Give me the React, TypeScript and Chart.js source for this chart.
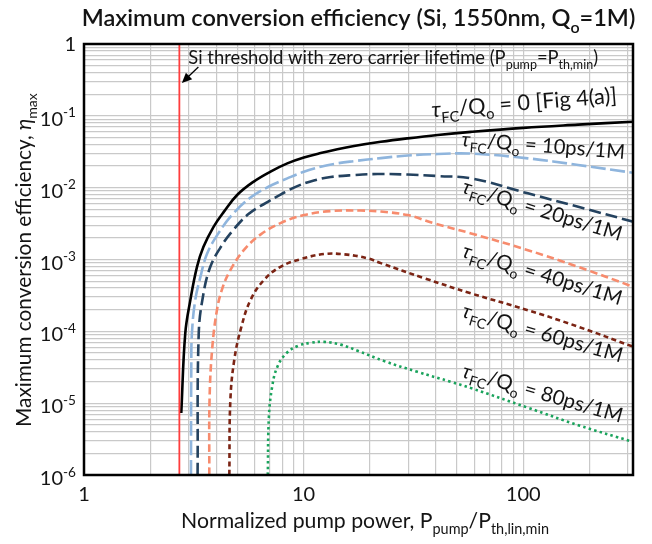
import React, { useEffect, useRef } from 'react';
import { Chart, registerables } from 'chart.js';
Chart.register(...registerables);

// ---------- axis ranges & ticks ----------
const X_MIN = 1;
const X_MAX = 316.23;
const Y_MIN = 1e-6;
const Y_MAX = 1;
const xGridValues = [1, 2, 3, 4, 5, 6, 7, 8, 9, 10, 20, 30, 40, 50, 60, 70, 80, 90, 100, 200, 300];
const yGridDecades = [-6, -5, -4, -3, -2, -1];
const yGridMultipliers = [1, 2, 3, 4, 5, 6, 7, 8, 9];
const xTickValues = [1, 10, 100];
const xTickLabels = ['1', '10', '100'];
const yTickExponents = [-6, -5, -4, -3, -2, -1, 0];

// ---------- data ----------
const thresholdX = 2.718;

const x0 = [2.773, 2.891, 3.05, 3.27, 3.5, 3.89, 4.33, 4.98, 5.93, 7.07, 8.43, 10.03, 11.96, 14.25, 16.97, 22.47, 29.8, 40.8, 57.9, 100, 177.8, 316.6];
const y0 = [7.3e-6, 9.3e-5, 2.72e-4, 7.9e-4, 1.5e-3, 2.85e-3, 4.6e-3, 7.9e-3, 0.01216, 0.01676, 0.0218, 0.02626, 0.03033, 0.03426, 0.03797, 0.04345, 0.04861, 0.05421, 0.05986, 0.06806, 0.0754, 0.0828];

const x10 = [3.07, 3.08, 3.1, 3.21, 3.39, 3.63, 4.09, 4.79, 5.73, 6.92, 8.43, 10.03, 11.96, 14.25, 16.97, 22.47, 29.8, 40.8, 57.9, 105, 178, 317];
const y10 = [1e-6, 3.2e-5, 9.3e-5, 2.72e-4, 5.74e-4, 1.19e-3, 2.31e-3, 4.39e-3, 7.28e-3, 0.0103, 0.01346, 0.01667, 0.01954, 0.0218, 0.0234, 0.0258, 0.028, 0.0294, 0.0298, 0.0256, 0.0207, 0.0161];

const x20 = [3.29, 3.33, 3.5, 3.76, 4.18, 4.74, 5.61, 6.71, 7.85, 9.36, 11.14, 13.28, 16.97, 21.7, 29.8, 40.8, 57.9, 105, 178, 317];
const y20 = [1e-6, 9.3e-5, 3.37e-4, 7.91e-4, 1.465e-3, 2.49e-3, 4.29e-3, 6.1e-3, 8.0e-3, 0.01052, 0.01256, 0.01406, 0.01498, 0.01547, 0.01522, 0.01451, 0.01348, 8.33e-3, 5.42e-3, 3.35e-3];

const x40 = [3.72, 3.73, 3.83, 4.03, 4.27, 4.64, 5.34, 6.36, 7.85, 10.03, 13.28, 18.2, 22.47, 29.8, 39.4, 57.9, 105, 178, 317];
const y40 = [1e-6, 1.1e-5, 5.47e-5, 1.97e-4, 4.0e-4, 7.11e-4, 1.35e-3, 2.22e-3, 3.21e-3, 4.15e-3, 4.72e-3, 4.8e-3, 4.65e-3, 4.15e-3, 3.18e-3, 2.31e-3, 1.35e-3, 7.9e-4, 4.17e-4];

const x60 = [4.59, 4.64, 4.84, 5.21, 5.73, 6.59, 7.85, 9.69, 12.38, 15.28, 19.54, 22.47, 35.4, 57.9, 105, 178, 317];
const y60 = [1e-6, 1.1e-5, 4.1e-5, 1.16e-4, 2.72e-4, 5.16e-4, 7.91e-4, 1.01e-3, 1.19e-3, 1.18e-3, 1.04e-3, 8.9e-4, 5.5e-4, 3.37e-4, 1.97e-4, 1.16e-4, 6.1e-5];

const x80 = [6.87, 6.95, 7.19, 7.59, 8.36, 9.49, 10.76, 12.38, 14.75, 17.6, 23.3, 33.0, 46.9, 57.9, 105, 178, 317];
const y80 = [1e-6, 6.45e-6, 1.69e-5, 3.2e-5, 4.97e-5, 6.32e-5, 6.92e-5, 7.14e-5, 6.53e-5, 5.38e-5, 3.85e-5, 2.73e-5, 1.98e-5, 1.62e-5, 8.65e-6, 4.94e-6, 2.89e-6];

const seriesNames = ['0', '10ps', '20ps', '40ps', '60ps', '80ps'];

// label anchors (data coords of left baseline), angle in degrees
const labelValues = ['0 [Fig 4(a)]', '10ps/1M', '20ps/1M', '40ps/1M', '60ps/1M', '80ps/1M'];
const labelX = [38.4, 52.1, 52.1, 52.1, 52.1, 52.1];
const labelY = [0.0953, 0.038, 8.55e-3, 1.09e-3, 1.59e-4, 2.32e-5];
const labelAngle = [-4.5, 4.5, 17, 17, 16, 16];
const labelWidth = [186, 164, 166, 166, 166, 166];

const FONT = 'Lato, "Open Sans", "DejaVu Sans", sans-serif';
const TEXT = '#141414';

type Kind = '' | 'sub' | 'sup' | 'i';
type Seg = [string, Kind];

function fontFor(kind: Kind, size: number, weight: string) {
  const s = kind === 'sub' || kind === 'sup' ? size * 0.68 : size;
  return `${kind === 'i' ? 'italic ' : ''}${weight} ${s.toFixed(2)}px ${FONT}`;
}

function measureRich(ctx: CanvasRenderingContext2D, segs: Seg[], size: number, weight: string) {
  let w = 0;
  for (const [t, k] of segs) {
    ctx.font = fontFor(k, size, weight);
    w += ctx.measureText(t).width;
  }
  return w;
}

function drawRich(
  ctx: CanvasRenderingContext2D,
  segs: Seg[],
  x: number,
  y: number,
  size: number,
  opts: { align?: 'left' | 'center' | 'right'; angle?: number; weight?: string; fit?: number; color?: string } = {}
) {
  const align = opts.align || 'left';
  const weight = opts.weight || 'normal';
  let w = measureRich(ctx, segs, size, weight);
  if (opts.fit) {
    size = (size * opts.fit) / w;
    w = measureRich(ctx, segs, size, weight);
  }
  ctx.save();
  ctx.translate(x, y);
  ctx.rotate(((opts.angle || 0) * Math.PI) / 180);
  ctx.fillStyle = opts.color || TEXT;
  ctx.textBaseline = 'alphabetic';
  ctx.textAlign = 'left';
  let cx = align === 'center' ? -w / 2 : align === 'right' ? -w : 0;
  for (const [t, k] of segs) {
    ctx.font = fontFor(k, size, weight);
    const dy = k === 'sub' ? size * 0.28 : k === 'sup' ? -size * 0.42 : 0;
    ctx.fillText(t, cx, dy);
    cx += ctx.measureText(t).width;
  }
  ctx.restore();
}

const decorPlugin = {
  id: 'decor',
  afterDraw(chart: any) {
    const ctx: CanvasRenderingContext2D = chart.ctx;
    const { left, right, top, bottom } = chart.chartArea;
    const xs = chart.scales.x;
    const ys = chart.scales.y;

    // frame
    ctx.save();
    ctx.strokeStyle = '#000';
    ctx.lineWidth = 2.5;
    ctx.strokeRect(left, top, right - left, bottom - top);
    ctx.restore();

    // title
    drawRich(
      ctx,
      [['Maximum conversion efficiency (Si, 1550nm, Q', ''], ['o', 'sub'], ['=1M)', '']],
      (left + right) / 2,
      26,
      23,
      { align: 'center', weight: '600', fit: 554 }
    );

    // x tick labels
    xTickValues.forEach((v, i) => {
      drawRich(ctx, [[xTickLabels[i], '']], xs.getPixelForValue(v), 501, 20, { align: 'center' });
    });

    // y tick labels
    yTickExponents.forEach((e) => {
      const py = ys.getPixelForValue(Math.pow(10, e));
      if (e === 0) {
        drawRich(ctx, [['1', '']], 76, py + 7, 20, { align: 'right' });
      } else {
        drawRich(ctx, [['10', ''], [String(e), 'sup']], 76, py + 10, 20, { align: 'right' });
      }
    });

    // axis titles
    drawRich(
      ctx,
      [['Normalized pump power, P', ''], ['pump', 'sub'], ['/P', ''], ['th,lin,min', 'sub']],
      365,
      528,
      18,
      { align: 'center', fit: 368 }
    );
    drawRich(
      ctx,
      [['Maximum conversion efficiency, ', ''], ['η', 'i'], ['max', 'sub']],
      31,
      260,
      18,
      { align: 'center', angle: -90, fit: 334 }
    );

    // threshold annotation
    const ax = xs.getPixelForValue(thresholdX);
    drawRich(
      ctx,
      [['Si threshold with zero carrier lifetime (P', ''], ['pump', 'sub'], ['=P', ''], ['th,min', 'sub'], [')', '']],
      ax + 9,
      64,
      17,
      { fit: 410 }
    );
    // arrow
    const tx = ax + 19, ty = 67, hx = ax + 2.5, hy = 83;
    ctx.save();
    ctx.strokeStyle = '#000';
    ctx.fillStyle = '#000';
    ctx.lineWidth = 1.3;
    ctx.beginPath();
    ctx.moveTo(tx, ty);
    ctx.lineTo(hx + 4, hy - 4);
    ctx.stroke();
    const ang = Math.atan2(hy - ty, hx - tx);
    const L = 10, W = 4.5;
    ctx.beginPath();
    ctx.moveTo(hx, hy);
    ctx.lineTo(hx - L * Math.cos(ang) + W * Math.sin(ang), hy - L * Math.sin(ang) - W * Math.cos(ang));
    ctx.lineTo(hx - L * Math.cos(ang) - W * Math.sin(ang), hy - L * Math.sin(ang) + W * Math.cos(ang));
    ctx.closePath();
    ctx.fill();
    ctx.restore();

    // curve labels
    labelValues.forEach((val, i) => {
      drawRich(
        ctx,
        [['τ', 'i'], ['FC', 'sub'], ['/Q', ''], ['o', 'sub'], [' = ' + val, '']],
        xs.getPixelForValue(labelX[i]),
        ys.getPixelForValue(labelY[i]),
        20,
        { angle: labelAngle[i], fit: labelWidth[i] }
      );
    });
  },
};

function pts(xa: number[], ya: number[]) {
  return xa.map((x, i) => ({ x, y: ya[i] }));
}

export default function App() {
  const ref = useRef<HTMLCanvasElement | null>(null);
  useEffect(() => {
    document.body.style.margin = '0';
    const canvas = ref.current!;
    const gridColor = '#c9c9c9';
    const chart = new Chart(canvas, {
      type: 'scatter',
      data: {
        datasets: [
          { label: 'threshold', data: [{ x: thresholdX, y: Y_MIN }, { x: thresholdX, y: Y_MAX }], borderColor: '#ff3d3d', borderWidth: 1.8, tension: 0 },
          { label: seriesNames[5], data: pts(x80, y80), borderColor: '#1aa35c', borderWidth: 2.6, borderDash: [2.5, 3.2], tension: 0.4 },
          { label: seriesNames[4], data: pts(x60, y60), borderColor: '#7b2414', borderWidth: 2.6, borderDash: [5, 3.5], tension: 0.4 },
          { label: seriesNames[3], data: pts(x40, y40), borderColor: '#f78b6d', borderWidth: 2.6, borderDash: [7.5, 4], tension: 0.4 },
          { label: seriesNames[2], data: pts(x20, y20), borderColor: '#24425f', borderWidth: 2.6, borderDash: [12, 5], tension: 0.4 },
          { label: seriesNames[1], data: pts(x10, y10), borderColor: '#8fb5dd', borderWidth: 2.6, borderDash: [15, 4.5], tension: 0.4 },
          { label: seriesNames[0], data: pts(x0, y0), borderColor: '#000000', borderWidth: 2.6, tension: 0.4 },
        ].map((d) => ({ ...d, showLine: true, pointRadius: 0, fill: false })),
      },
      options: {
        animation: false,
        responsive: false,
        maintainAspectRatio: false,
        layout: { padding: { left: 84, right: 19, top: 44, bottom: 69 } },
        plugins: { legend: { display: false }, tooltip: { enabled: false }, title: { display: false } },
        scales: {
          x: {
            type: 'logarithmic',
            min: X_MIN,
            max: X_MAX,
            afterBuildTicks: (s: any) => {
              s.ticks = xGridValues.map((v) => ({ value: v }));
            },
            ticks: { display: false },
            grid: { color: gridColor, lineWidth: 1.2, drawTicks: false },
            border: { display: false },
          },
          y: {
            type: 'logarithmic',
            min: Y_MIN,
            max: Y_MAX,
            afterBuildTicks: (s: any) => {
              const t: any[] = [];
              yGridDecades.forEach((e) => yGridMultipliers.forEach((m) => t.push({ value: m * Math.pow(10, e) })));
              t.push({ value: 1 });
              s.ticks = t;
            },
            ticks: { display: false },
            grid: { color: gridColor, lineWidth: 1.2, drawTicks: false },
            border: { display: false },
          },
        },
      },
      plugins: [decorPlugin],
    });
    return () => chart.destroy();
  }, []);
  return (
    <div style={{ position: 'fixed', left: 0, top: 0, width: 652, height: 544, background: '#fff' }}>
      <canvas ref={ref} width={652} height={544} style={{ display: 'block' }} />
    </div>
  );
}
